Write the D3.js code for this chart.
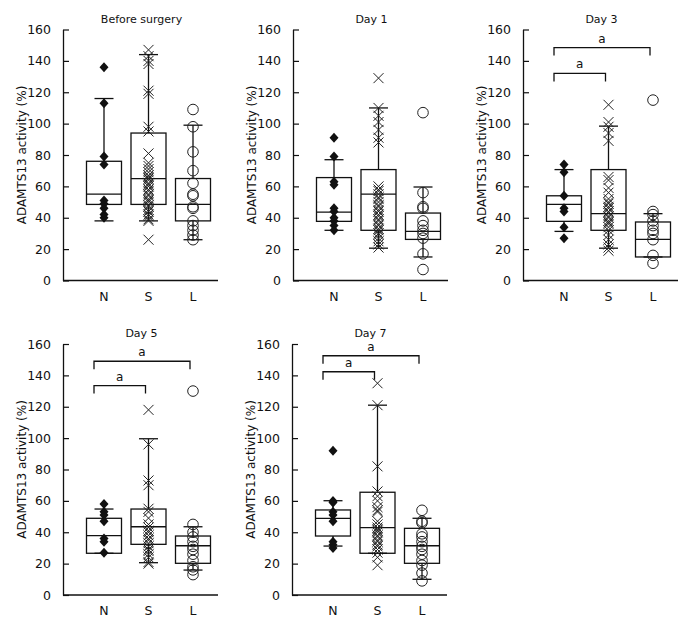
<!DOCTYPE html>
<html lang="en">
<head>
  <meta charset="UTF-8">
  <title>ADAMTS13 activity</title>
  <script src="https://d3js.org/d3.v7.min.js"></script>
  <style>
    body { margin: 0; background: #fff; font-family: "DejaVu Sans", Verdana, sans-serif; }
    svg text { fill: #111; }
  </style>
</head>
<body>
  <div id="chart"></div>
  <script>
    // groups and labels
    const groups = ["N", "S", "L"];
    const panelTitles = ["Before surgery", "Day 1", "Day 3", "Day 5", "Day 7"];
    const yTicks = [0, 20, 40, 60, 80, 100, 120, 140, 160];

    // individual values per group
    const beforeN = [136, 113, 79, 74, 51, 49, 46, 42, 40];
    const beforeS = [147, 143, 140, 138, 121, 119, 98, 95, 81, 75, 73, 71, 69, 67, 66, 65, 64, 62, 61, 60, 58, 57, 55, 54, 52, 51, 50, 48, 47, 45, 44, 42, 41, 39, 38, 26];
    const beforeL = [109, 98, 82, 70, 62, 55, 54, 47, 46, 38, 35, 32, 29, 26];

    const day1N = [91, 79, 63, 61, 46, 44, 40, 38, 35, 32];
    const day1S = [129, 110, 105, 101, 96, 91, 88, 60, 58, 57, 55, 53, 52, 50, 48, 47, 45, 44, 42, 41, 39, 38, 36, 35, 33, 32, 30, 29, 27, 25, 23, 21];
    const day1L = [107, 56, 47, 46, 38, 35, 32, 30, 27, 17, 7];

    const day3N = [74, 69, 54, 46, 44, 34, 27];
    const day3S = [112, 101, 98, 94, 89, 66, 64, 59, 56, 52, 50, 49, 47, 46, 44, 43, 41, 40, 38, 37, 36, 34, 32, 29, 26, 23, 21, 19];
    const day3L = [115, 44, 42, 38, 35, 32, 30, 26, 16, 11];

    const day5N = [58, 53, 51, 47, 36, 34, 27];
    const day5S = [118, 96, 73, 70, 55, 53, 49, 45, 43, 41, 40, 38, 36, 35, 33, 31, 29, 28, 26, 24, 21, 20];
    const day5L = [130, 45, 40, 37, 34, 31, 29, 26, 22, 18, 16, 13];

    const day7N = [92, 60, 59, 53, 51, 47, 34, 32, 30];
    const day7S = [135, 121, 82, 66, 63, 60, 56, 54, 53, 47, 45, 43, 42, 41, 40, 38, 37, 35, 34, 32, 31, 29, 27, 24, 19];
    const day7L = [54, 47, 46, 39, 37, 34, 31, 29, 26, 22, 19, 14, 9];

    // box stats: [whisker low, q1, median, q3, whisker high]
    const beforeStats = [[38, 48.5, 55, 76, 116], [38, 48.5, 65, 94, 144], [26, 38, 48.5, 65, 99]];
    const day1Stats = [[32, 37.7, 43.6, 65.6, 77], [20.6, 32, 55, 70.7, 110], [15, 26.2, 31.3, 43, 59.6]];
    const day3Stats = [[31.3, 37.7, 48.5, 54, 70.7], [20.6, 32, 42.6, 70.7, 98.4], [15, 15, 26.2, 37.3, 42.6]];
    const day5Stats = [[26.6, 26.6, 37.8, 48.9, 54.8], [20.6, 32.3, 43.5, 54.8, 99.6], [15.9, 20.2, 31.4, 37.6, 43.5]];
    const day7Stats = [[31.2, 37.6, 48.9, 54.2, 60.1], [26.6, 26.6, 42.9, 65.5, 121], [10, 20.2, 31.4, 42.5, 48.9]];

    // significance brackets: [target group, level]
    const day3Brackets = [["S", 132], ["L", 148.5]];
    const day5Brackets = [["S", 133.5], ["L", 149]];
    const day7Brackets = [["S", 142.3], ["L", 152.5]];

    const panels = [
      { title: panelTitles[0], pts: [beforeN, beforeS, beforeL], stats: beforeStats, brackets: [], left: 63, top: 29.5 },
      { title: panelTitles[1], pts: [day1N, day1S, day1L], stats: day1Stats, brackets: [], left: 293, top: 29.5 },
      { title: panelTitles[2], pts: [day3N, day3S, day3L], stats: day3Stats, brackets: day3Brackets, left: 523, top: 29.5 },
      { title: panelTitles[3], pts: [day5N, day5S, day5L], stats: day5Stats, brackets: day5Brackets, left: 63, top: 344 },
      { title: panelTitles[4], pts: [day7N, day7S, day7L], stats: day7Stats, brackets: day7Brackets, left: 292, top: 344 }
    ];

    const W = 700, H = 629;
    const pw = 155, ph = 251;
    const ink = "#111";

    const svg = d3.select("#chart").append("svg")
      .attr("width", W).attr("height", H);

    const x = d3.scalePoint().domain(groups).range([41, 130]);
    const y = d3.scaleLinear().domain([0, 160]).range([ph, 0]);
    const boxW = 35, capW = 19;

    panels.forEach(p => {
      const g = svg.append("g").attr("transform", `translate(${p.left},${p.top})`);

      // title
      g.append("text")
        .attr("x", pw / 2 + 1).attr("y", -7)
        .attr("text-anchor", "middle")
        .style("font-size", "11px")
        .text(p.title);

      // y axis label
      g.append("text")
        .attr("transform", `translate(-37,${ph / 2}) rotate(-90)`)
        .attr("text-anchor", "middle")
        .style("font-size", "12px")
        .text("ADAMTS13 activity (%)");

      // y axis with inward ticks
      const ya = g.append("g")
        .call(d3.axisLeft(y).tickValues(yTicks).tickSizeInner(-6).tickSizeOuter(0).tickPadding(12));
      ya.select(".domain").attr("stroke", ink).attr("stroke-width", 1.3);
      ya.selectAll(".tick line").attr("stroke", ink).attr("stroke-width", 1.2);
      ya.selectAll(".tick text").style("font-size", "12.5px").style("font-family", "DejaVu Sans, Verdana, sans-serif").attr("fill", ink);

      // x axis line and group labels
      g.append("line").attr("x1", 0).attr("x2", pw).attr("y1", ph).attr("y2", ph)
        .attr("stroke", ink).attr("stroke-width", 1.3);
      g.selectAll(".glab").data(groups).enter().append("text")
        .attr("x", d => x(d)).attr("y", ph + 20)
        .attr("text-anchor", "middle")
        .style("font-size", "12.5px")
        .text(d => d);

      // boxes
      groups.forEach((grp, i) => {
        const [lo, q1, med, q3, hi] = p.stats[i];
        const cx = x(grp);
        const bg = g.append("g").attr("stroke", ink).attr("stroke-width", 1.3).attr("fill", "none");
        bg.append("line").attr("x1", cx).attr("x2", cx).attr("y1", y(q3)).attr("y2", y(hi));
        bg.append("line").attr("x1", cx).attr("x2", cx).attr("y1", y(q1)).attr("y2", y(lo));
        bg.append("line").attr("x1", cx - capW / 2).attr("x2", cx + capW / 2).attr("y1", y(hi)).attr("y2", y(hi));
        bg.append("line").attr("x1", cx - capW / 2).attr("x2", cx + capW / 2).attr("y1", y(lo)).attr("y2", y(lo));
        bg.append("rect").attr("x", cx - boxW / 2).attr("width", boxW)
          .attr("y", y(q3)).attr("height", y(q1) - y(q3));
        bg.append("line").attr("x1", cx - boxW / 2).attr("x2", cx + boxW / 2).attr("y1", y(med)).attr("y2", y(med));
      });

      // points
      const ptsN = g.append("g");
      ptsN.selectAll("path").data(p.pts[0]).enter().append("path")
        .attr("d", d => {
          const cx = x("N"), cy = y(d);
          return `M${cx},${cy - 5}L${cx + 4.5},${cy}L${cx},${cy + 5}L${cx - 4.5},${cy}Z`;
        })
        .attr("fill", ink);

      const ptsS = g.append("g").attr("stroke", "#222").attr("stroke-width", 1).attr("fill", "none");
      ptsS.selectAll("path").data(p.pts[1]).enter().append("path")
        .attr("d", d => {
          const cx = x("S"), cy = y(d), r = 5;
          return `M${cx - r},${cy - r}L${cx + r},${cy + r}M${cx - r},${cy + r}L${cx + r},${cy - r}`;
        });

      const ptsL = g.append("g");
      ptsL.selectAll("circle").data(p.pts[2]).enter().append("circle")
        .attr("cx", x("L")).attr("cy", d => y(d)).attr("r", 5.3)
        .attr("fill", "none").attr("stroke", "#222").attr("stroke-width", 1);

      // significance brackets
      p.brackets.forEach(([to, lvl]) => {
        const x1 = x("N") - 10, x2 = x(to) - 3, yy = y(lvl);
        g.append("path")
          .attr("d", `M${x1},${yy + 8}V${yy}H${x2}V${yy + 8}`)
          .attr("fill", "none").attr("stroke", ink).attr("stroke-width", 1.3);
        g.append("text")
          .attr("x", (x1 + x2) / 2).attr("y", yy - 5)
          .attr("text-anchor", "middle")
          .style("font-size", "12px")
          .text("a");
      });
    });
  </script>
</body>
</html>
